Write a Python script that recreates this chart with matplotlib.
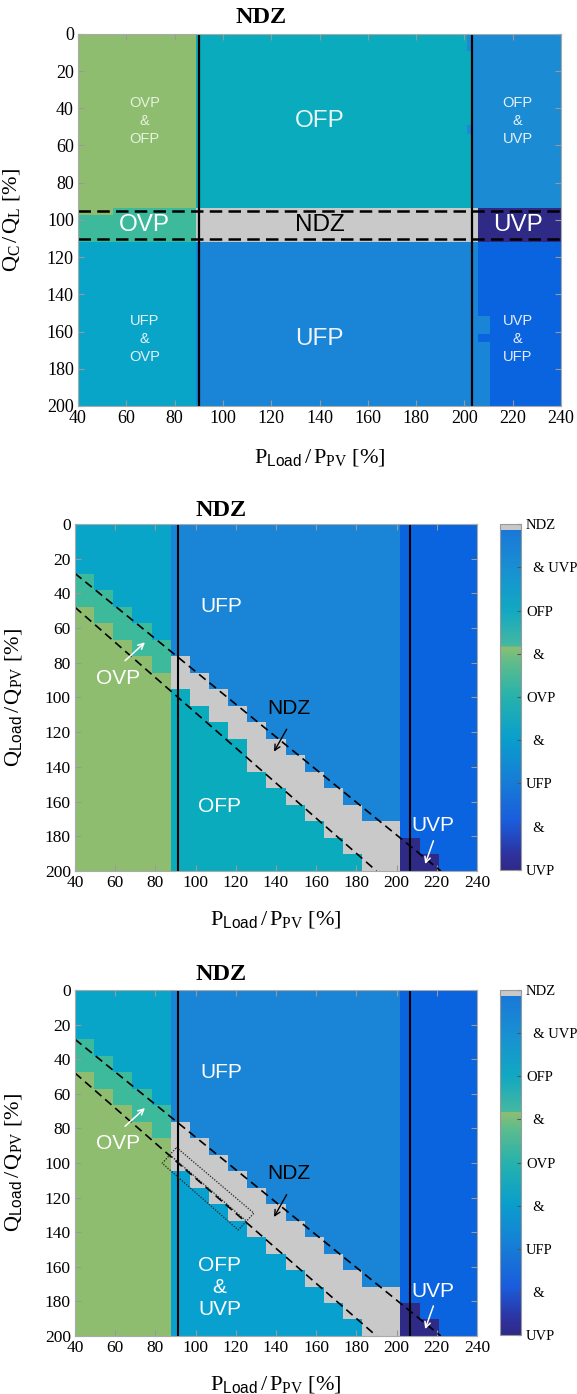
import numpy as np
import matplotlib
matplotlib.use("Agg")
import matplotlib.pyplot as plt
from matplotlib.colors import ListedColormap, LinearSegmentedColormap, Normalize
from matplotlib.cm import ScalarMappable

plt.rcParams["font.family"] = ["Liberation Serif", "DejaVu Serif"]
plt.rcParams["mathtext.fontset"] = "custom"
plt.rcParams["mathtext.rm"] = "Liberation Serif"
plt.rcParams["mathtext.sf"] = "Liberation Sans"
plt.rcParams["mathtext.it"] = "Liberation Serif:italic"
SANS = "Liberation Sans"

# ---- region categories and their colours ----
cat_names = ["ovp_ofp", "ovp", "ofp", "ufp_ovp", "ufp", "ofp_uvp",
             "uvp_ufp", "uvp", "ndz", "ofp_uvp_b"]
cat_colors = ["#8fbd70", "#3db99c", "#0aabbc", "#09a5c8", "#1a84d6", "#1b8bd4",
              "#0a63df", "#2e2a86", "#c9c9c9", "#08a1cf"]
CAT = {n: i for i, n in enumerate(cat_names)}

# ---- panel 1: Q_C/Q_L vs P_Load/P_PV (block edges) ----
p1_x_edges = [40, 54.4, 89, 201, 203.2, 205.8, 210.6, 240]
p1_y_edges = [0, 9, 49, 54, 93.5, 97.3, 112, 151.5, 161.3, 165.9, 200]
p1_cells = [
    ["ovp_ofp", "ovp_ofp", "ofp", "ofp_uvp", "ofp_uvp", "ofp_uvp", "ofp_uvp"],
    ["ovp_ofp", "ovp_ofp", "ofp", "ofp", "ofp_uvp", "ofp_uvp", "ofp_uvp"],
    ["ovp_ofp", "ovp_ofp", "ofp", "ofp_uvp", "ofp_uvp", "ofp_uvp", "ofp_uvp"],
    ["ovp_ofp", "ovp_ofp", "ofp", "ofp", "ofp_uvp", "ofp_uvp", "ofp_uvp"],
    ["ovp_ofp", "ovp", "ndz", "ndz", "ndz", "uvp", "uvp"],
    ["ovp", "ovp", "ndz", "ndz", "ndz", "uvp", "uvp"],
    ["ufp_ovp", "ufp_ovp", "ufp", "ufp", "ufp", "uvp_ufp", "uvp_ufp"],
    ["ufp_ovp", "ufp_ovp", "ufp", "ufp", "ufp", "ufp", "uvp_ufp"],
    ["ufp_ovp", "ufp_ovp", "ufp", "ufp", "ufp", "uvp_ufp", "uvp_ufp"],
    ["ufp_ovp", "ufp_ovp", "ufp", "ufp", "ufp", "ufp", "uvp_ufp"],
]
p1_vlines = [90, 203.2]
p1_hdash = [95, 110.5]
p1_labels = [
    (67.5, 47, "OVP\n&\nOFP", "#e6f2e0", 10.5), (140, 47, "OFP", "#e8f6f6", 17.5),
    (222, 47, "OFP\n&\nUVP", "#e6f0f8", 10.5), (67.5, 103, "OVP", "white", 17.5),
    (140, 103, "NDZ", "black", 17.5), (222, 103, "UVP", "white", 17.5),
    (67.5, 164, "UFP\n&\nOVP", "#e6f2f6", 10.5), (140, 164, "UFP", "#eef4fa", 17.5),
    (222, 164, "UVP\n&\nUFP", "#e6eefa", 10.5),
]

# ---- panels 2/3: 21 x 21 grid, per-column boundary rows ----
n_cells = 21
teal_top = [3, 4, 5, 6, 7]          # columns 0-4
green_top = [5, 6, 7, 8, 9]
ndz_top = [8, 9, 10, 11, 12, 13, 14, 15, 16, 17, 18, 18]   # columns 5-16
low_top_p2 = [10, 11, 12, 13, 15, 16, 17, 18, 19, 20, 21, 21]
low_top_p3 = [11, 12, 13, 14, 15, 16, 17, 18, 19, 20, 21, 21]
uvp_top = [19, 20, 21, 21]           # columns 17-20
p23_vlines = [91.3, 206.7]
dash_upper = ([40, 222], [28.5, 200])
dash_lower = ([40, 190], [48, 200])
rect_outer = ([90.5, 129, 121.2, 83.4, 90.5], [91, 129, 138.7, 100.2, 91])
rect_mid = ([87.2, 125.3], [95.3, 133.6])

# colorbar of panels 2/3
cbar_stops = [0.0, 0.04, 0.14, 0.26, 0.38, 0.50, 0.60, 0.645, 0.647,
              0.75, 0.87, 0.982, 0.984, 1.0]
cbar_cols = ["#2e2a85", "#2f309c", "#1a5cdc", "#167ed6", "#0a9ecc", "#26b2ac",
             "#5ebc8c", "#8ebd72", "#46b8a0", "#12a8c2", "#1890d2", "#1a78d8",
             "#c8c8c8", "#c8c8c8"]
cbar_ticks = [0, 0.125, 0.25, 0.375, 0.5, 0.625, 0.75, 0.875, 1.0]
cbar_labels = ["UVP", "  &", "UFP", "  &", "OVP", "  &", "OFP", "  & UVP", "NDZ"]

cmap_cat = ListedColormap(cat_colors)
cmap_bar = LinearSegmentedColormap.from_list(
    "ndzbar", list(zip(cbar_stops, cbar_cols)), N=1024)

xticks = np.arange(40, 241, 20)
yticks = np.arange(0, 201, 20)
xlab = r"$\mathrm{P}_{\mathsf{Load}}\,/\,\mathrm{P}_{\mathrm{PV}}$ [%]"


def style_axes(ax, tick_fs):
    ax.set_xlim(40, 240)
    ax.set_ylim(200, 0)
    ax.set_xticks(xticks)
    ax.set_yticks(yticks)
    ax.tick_params(direction="in", top=True, right=True, length=4,
                   color="#999999", labelsize=tick_fs, pad=3)
    for s in ax.spines.values():
        s.set_color("#aaaaaa")
        s.set_linewidth(0.8)


def build_grid(low_top, low_cat):
    g = np.zeros((n_cells, n_cells), dtype=int)
    for k in range(5):
        g[:, k] = CAT["ufp_ovp"]
        g[teal_top[k]:, k] = CAT["ovp"]
        g[green_top[k]:, k] = CAT["ovp_ofp"]
    for i, k in enumerate(range(5, 17)):
        g[:, k] = CAT["ufp"]
        g[ndz_top[i]:, k] = CAT["ndz"]
        g[low_top[i]:, k] = CAT[low_cat]
    for i, k in enumerate(range(17, 21)):
        g[:, k] = CAT["uvp_ufp"]
        g[uvp_top[i]:, k] = CAT["uvp"]
    return g


fig = plt.figure(figsize=(5.77, 13.94), dpi=100)

# ---------------- panel 1 ----------------
ax1 = fig.add_axes([0.1352, 0.7088, 0.8371, 0.2669])
idx = np.array([[CAT[c] for c in row] for row in p1_cells])
ax1.pcolormesh(p1_x_edges, p1_y_edges, idx, cmap=cmap_cat,
               vmin=-0.5, vmax=len(cat_names) - 0.5)
for xv in p1_vlines:
    ax1.axvline(xv, color="black", lw=1.6)
for yv in p1_hdash:
    ax1.axhline(yv, color="black", lw=1.8, ls=(0, (5, 2.5)))
for x, y, s, c, fs in p1_labels:
    ax1.text(x, y, s, color=c, fontsize=fs, family=SANS, ha="center",
             va="center", linespacing=1.35)
style_axes(ax1, 13)
ax1.text(0.3795, 1.045, "NDZ", transform=ax1.transAxes, ha="center",
         va="center", fontsize=17.5, fontweight="bold")
ax1.set_xlabel(xlab, fontsize=16)
ax1.set_ylabel(r"$\mathrm{Q}_{\mathrm{C}}\,/\,\mathrm{Q}_{\mathrm{L}}$ [%]", fontsize=16)
ax1.xaxis.set_label_coords(0.5, -0.11)
ax1.yaxis.set_label_coords(-0.115, 0.5)


# ---------------- panels 2 and 3 ----------------
def draw_lower(rect_ax, rect_cb, low_top, low_cat, low_label, show_rect, title_y):
    ax = fig.add_axes(rect_ax)
    g = build_grid(low_top, low_cat)
    ax.imshow(g, extent=[40, 240, 200, 0], cmap=cmap_cat, vmin=-0.5,
              vmax=len(cat_names) - 0.5, interpolation="nearest", aspect="auto")
    for xv in p23_vlines:
        ax.axvline(xv, color="black", lw=1.5)
    ax.plot(*dash_upper, color="black", lw=1.2, ls=(0, (5, 3)))
    ax.plot(*dash_lower, color="black", lw=1.2, ls=(0, (5, 3)))
    if show_rect:
        ax.plot(*rect_outer, color="#222222", lw=0.9, ls=(0, (1, 1.2)))
        ax.plot(*rect_mid, color="#222222", lw=0.9, ls=(0, (1, 1.2)))

    ax.text(113, 47.5, "UFP", color="white", fontsize=15, family=SANS,
            ha="center", va="center")
    ax.text(61.5, 89, "OVP", color="white", fontsize=15, family=SANS,
            ha="center", va="center")
    ax.text(146.5, 106.3, "NDZ", color="black", fontsize=15, family=SANS,
            ha="center", va="center")
    ax.text(218, 174, "UVP", color="white", fontsize=15, family=SANS,
            ha="center", va="center")
    ax.text(112, 163 if low_label == "OFP" else 172, low_label, color="white",
            fontsize=15, family=SANS, ha="center", va="center",
            linespacing=1.2)
    arr_w = dict(arrowstyle="->", color="white", lw=1.1, shrinkA=0, shrinkB=0,
                 mutation_scale=10)
    arr_k = dict(arrowstyle="->", color="black", lw=1.0, shrinkA=0, shrinkB=0,
                 mutation_scale=10)
    ax.annotate("", xy=(74.8, 68.2), xytext=(64.9, 78.8), arrowprops=arr_w)
    ax.annotate("", xy=(139, 131.2), xytext=(145.3, 118.3), arrowprops=arr_k)
    ax.annotate("", xy=(214.2, 196), xytext=(218.3, 182.6), arrowprops=arr_w)

    style_axes(ax, 12.5)
    ax.text(0.3627, title_y, "NDZ", transform=ax.transAxes, ha="center",
            va="center", fontsize=17.5, fontweight="bold")
    ax.set_xlabel(xlab, fontsize=16)
    ax.set_ylabel(r"$\mathrm{Q}_{\mathsf{Load}}\,/\,\mathrm{Q}_{\mathrm{PV}}$ [%]",
                  fontsize=16)
    ax.xaxis.set_label_coords(0.5, -0.11)
    ax.yaxis.set_label_coords(-0.128, 0.5)

    cax = fig.add_axes(rect_cb)
    cb = fig.colorbar(ScalarMappable(norm=Normalize(0, 1), cmap=cmap_bar), cax=cax)
    cb.set_ticks(cbar_ticks)
    cb.set_ticklabels(cbar_labels)
    cb.outline.set_edgecolor("#999999")
    cb.outline.set_linewidth(0.8)
    cax.tick_params(direction="in", length=3, color="#555555", labelsize=10.5,
                    pad=4)
    for lbl in cax.get_yticklabels():
        lbl.set_horizontalalignment("left")
    return ax


draw_lower([0.1300, 0.3752, 0.6967, 0.2489], [0.8674, 0.3759, 0.0347, 0.2482],
           low_top_p2, "ofp", "OFP", False, 1.04)
draw_lower([0.1300, 0.0416, 0.6967, 0.2482], [0.8674, 0.0423, 0.0347, 0.2475],
           low_top_p3, "ofp_uvp_b", "OFP\n&\nUVP", True, 1.045)

fig.savefig("out.png", dpi=100)
